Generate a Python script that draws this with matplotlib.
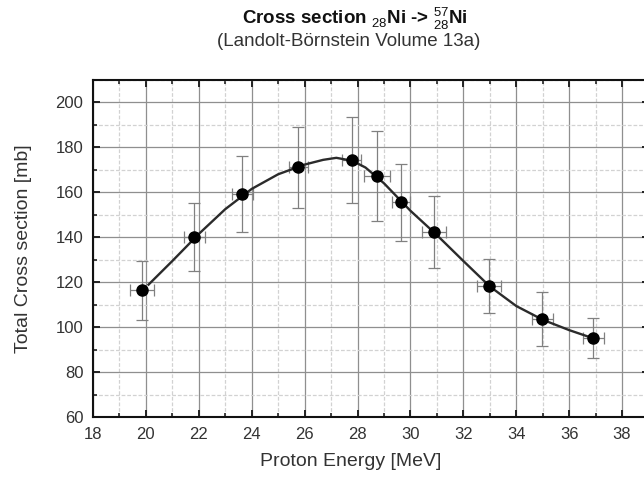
import matplotlib
matplotlib.use('Agg')
import matplotlib.pyplot as plt
from matplotlib.ticker import MultipleLocator

plt.rcParams['font.family'] = ['Liberation Sans', 'DejaVu Sans']
plt.rcParams['mathtext.fontset'] = 'custom'
plt.rcParams['mathtext.rm'] = 'Liberation Sans'
plt.rcParams['mathtext.bf'] = 'Liberation Sans:bold'

# measured points
energia = [19.85, 21.83, 23.65, 25.76, 27.78, 28.73, 29.65, 30.88, 32.97, 34.99, 36.92]
seccion = [116.4, 140.2, 159.3, 171.2, 174.3, 167.3, 155.5, 142.3, 118.4, 103.6, 95.2]
err_y = [13, 15, 17, 18, 19, 20, 17, 16, 12, 12, 9]
err_x = [0.44, 0.40, 0.40, 0.36, 0.35, 0.50, 0.35, 0.46, 0.46, 0.40, 0.38]

# fitted curve
curva_x = [20.1, 21, 22, 23, 24, 25, 26, 26.7, 27.2, 27.8, 28.3, 29, 30, 31, 32, 33, 34, 35, 36, 36.8]
curva_y = [119.0, 129.5, 141.5, 152.5, 161.5, 168.0, 172.3, 174.4, 175.3, 174.0, 171.0, 164.0, 151.8, 141.0, 129.5, 118.2, 109.5, 103.4, 98.8, 95.6]

fig = plt.figure(figsize=(6.44, 4.78), dpi=100)
ax = fig.add_axes([0.1444, 0.1266, 0.8626, 0.7067])

ax.errorbar(energia, seccion, yerr=err_y, xerr=err_x, fmt='none',
            ecolor='#808080', elinewidth=0.9, capsize=4, capthick=0.9, zorder=2)
ax.plot(curva_x, curva_y, color='#2b2b2b', lw=1.7, zorder=3)
ax.plot(energia, seccion, 'o', color='black', ms=8, zorder=4)

ax.set_xlim(18, 39)
ax.set_ylim(60, 210)
ax.xaxis.set_major_locator(MultipleLocator(2))
ax.xaxis.set_minor_locator(MultipleLocator(1))
ax.yaxis.set_minor_locator(MultipleLocator(10))
ax.set_yticks([60, 80, 100, 120, 140, 160, 180, 200])

ax.grid(True, which='major', color='#8f8f8f', lw=0.9, ls='-')
ax.grid(True, which='minor', color='#d2d2d2', lw=0.9, ls=(0, (3, 1.5)))
ax.set_axisbelow(True)

ax.tick_params(which='both', direction='in', top=True, right=True,
               labelsize=12, colors='#222222', labelcolor='#333333')
ax.tick_params(which='major', length=5, width=1.4, pad=7)
ax.tick_params(which='minor', length=3, width=1.2)
for s in ax.spines.values():
    s.set_linewidth(1.5)
    s.set_color('#111111')

ax.set_xlabel('Proton Energy [MeV]', fontsize=14, color='#333333', labelpad=9)
ax.xaxis.set_label_coords(0.464, -0.105)
ax.set_ylabel('Total Cross section [mb]', fontsize=14, color='#333333')
ax.yaxis.set_label_coords(-0.11, 0.5)

fig.text(0.551, 0.960, r'Cross section $_{28}$Ni -> $^{57}_{28}$Ni',
         ha='center', va='center', fontsize=13.5, fontweight='bold', color='#111111')
fig.text(0.542, 0.913, '(Landolt-Börnstein Volume 13a)',
         ha='center', va='center', fontsize=13.5, color='#333333')

fig.savefig('out.png', dpi=100)
